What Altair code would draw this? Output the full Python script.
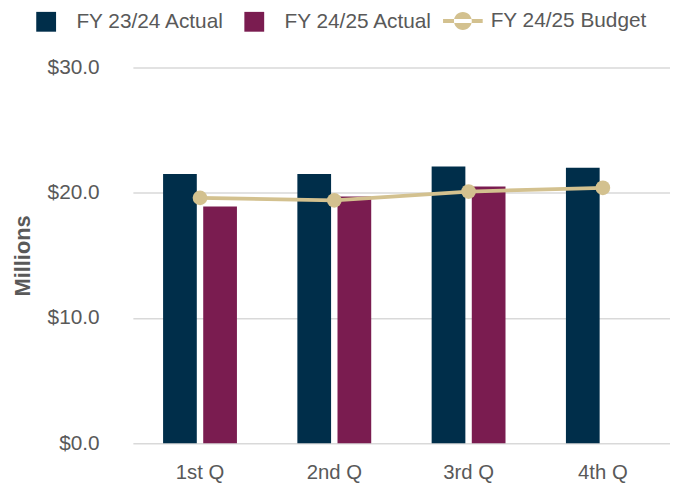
import altair as alt
import pandas as pd

quarters = ["1st Q", "2nd Q", "3rd Q", "4th Q"]
series_names = ["FY 23/24 Actual", "FY 24/25 Actual"]
fy2324 = [21.5, 21.5, 22.1, 22.0]
fy2425 = [18.9, 19.7, 20.5, None]
budget_name = "FY 24/25 Budget"
budget = [19.6, 19.4, 20.1, 20.4]
y_ticks = [0, 10, 20, 30]

NAVY = "#002E4A"
MAROON = "#7A1C50"
TAN = "#D3C18F"
GREY = "#595959"
FONT = "Liberation Sans"

rows = []
for q, a, b in zip(quarters, fy2324, fy2425):
    rows.append({"quarter": q, "series": series_names[0], "value": a})
    if b is not None:
        rows.append({"quarter": q, "series": series_names[1], "value": b})
bars_df = pd.DataFrame(rows)
budget_df = pd.DataFrame({"quarter": quarters, "value": budget, "series": [budget_name] * len(quarters)})

xscale = alt.Scale(domain=quarters, paddingInner=0.45, paddingOuter=0.225)
yscale = alt.Scale(domain=[0, 30])

x_axis = alt.Axis(title=None, labelFontSize=20.5, labelColor=GREY, labelFont=FONT,
                  ticks=False, tickSize=0, domain=False, labelPadding=20, grid=False, labelAngle=0)
y_axis = alt.Axis(title="Millions", values=y_ticks, format="$.1f", labelFontSize=21,
                  labelColor=GREY, labelFont=FONT, ticks=False, tickSize=0, domain=False,
                  labelPadding=34, grid=True, gridColor="#D9D9D9", gridWidth=1.5,
                  titleFont=FONT, titleFontSize=22, titleFontWeight="bold", titleColor=GREY,
                  titlePadding=13)

x_enc = alt.X("quarter:N", scale=xscale, axis=x_axis, sort=quarters)
y_enc = alt.Y("value:Q", scale=yscale, axis=y_axis)

bars = alt.Chart(bars_df).mark_bar().encode(
    x=x_enc,
    xOffset=alt.XOffset("series:N", sort=series_names,
                        scale=alt.Scale(domain=series_names, paddingInner=0.16, paddingOuter=0)),
    y=y_enc,
    color=alt.Color("series:N", sort=series_names,
                    scale=alt.Scale(domain=series_names, range=[NAVY, MAROON]),
                    legend=alt.Legend(title=None, orient="none", legendX=-98, legendY=-57,
                                      direction="horizontal", symbolType="square",
                                      symbolSize=400, symbolStrokeWidth=0, symbolOpacity=1,
                                      labelFontSize=21, labelColor=GREY, labelFont=FONT,
                                      labelOffset=20, columnPadding=19)),
)

line = alt.Chart(budget_df).mark_line(color=TAN, strokeWidth=3.8).encode(x=x_enc, y=y_enc)

legend_path = ("M-1,-0.1H1V0.1H-1Z M-0.45,0 A0.45,0.45 0 1,0 0.45,0 A0.45,0.45 0 1,0 -0.45,0 Z")
points = alt.Chart(budget_df).mark_point(filled=True, size=220, opacity=1).encode(
    x=x_enc,
    y=y_enc,
    color=alt.Color("series:N", scale=alt.Scale(domain=[budget_name], range=[TAN]),
                    legend=alt.Legend(title=None, orient="none", legendX=313, legendY=-67,
                                      symbolType=legend_path, symbolSize=1600,
                                      symbolStrokeWidth=0, symbolOpacity=1,
                                      labelFontSize=21, labelColor=GREY, labelFont=FONT,
                                      labelOffset=8)),
)

chart = alt.layer(bars, line, points).resolve_scale(color="independent").resolve_legend(
    color="independent"
).properties(
    width=542, height=379,
    autosize=alt.AutoSizeParams(type="none"),
    padding={"left": 126, "top": 58, "right": 0, "bottom": 40},
).configure_view(stroke=None)

chart.save("out.html", embed_options={"renderer": "svg", "actions": False})
